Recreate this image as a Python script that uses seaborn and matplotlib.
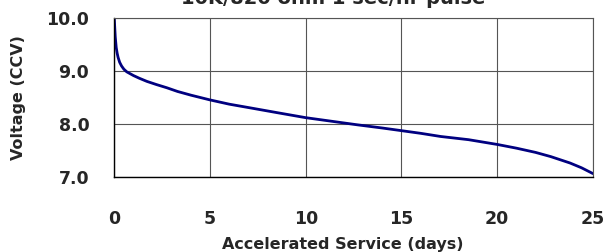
import matplotlib
matplotlib.use("Agg")
import matplotlib.pyplot as plt
import seaborn as sns
import pandas as pd

# readings taken off the reference curve
days = [0, 0.02, 0.05, 0.1, 0.15, 0.2, 0.28, 0.38, 0.5, 0.65, 0.8, 1.0,
        1.3, 1.7, 2.2, 2.74, 3.3, 4, 5, 6, 7.1, 8.5, 10, 11.5, 12.7, 14,
        15, 16, 17.05, 18.5, 20, 21, 22, 22.8, 23.8, 24.4, 25]
volts = [10.0, 9.85, 9.65, 9.45, 9.34, 9.26, 9.17, 9.1, 9.04, 8.99, 8.96,
         8.92, 8.87, 8.81, 8.75, 8.69, 8.62, 8.55, 8.46, 8.38, 8.31, 8.22,
         8.125, 8.05, 7.99, 7.93, 7.88, 7.83, 7.77, 7.71, 7.62, 7.55, 7.47,
         7.39, 7.27, 7.18, 7.07]
x_ticks = [0, 5, 10, 15, 20, 25]
y_ticks = [7.0, 8.0, 9.0, 10.0]
title = "10K/820 ohm 1 sec/hr pulse"

df = pd.DataFrame({"days": days, "volts": volts})

sns.set_style("white")
plt.rcParams["font.family"] = ["DejaVu Sans"]
plt.rcParams["font.weight"] = "bold"

fig = plt.figure(figsize=(6.06, 2.52), dpi=100)
ax = fig.add_axes([0.1886, 0.2964, 0.7899, 0.631])

sns.lineplot(data=df, x="days", y="volts", color="#000080", linewidth=2,
             ax=ax, sort=False)

ax.set_xlim(0, 25)
ax.set_ylim(7, 10)
ax.set_xticks(x_ticks)
ax.set_yticks(y_ticks)
ax.set_yticklabels([f"{v:.1f}" for v in y_ticks])
ax.tick_params(axis="x", length=0, pad=23.5, labelsize=12.5)
ax.tick_params(axis="y", length=0, pad=18, labelsize=12.5)
for lab in ax.get_xticklabels() + ax.get_yticklabels():
    lab.set_fontweight("bold")

ax.grid(True, color="#555555", linewidth=0.8)
for side in ["top", "right"]:
    ax.spines[side].set_color("#555555")
    ax.spines[side].set_linewidth(0.8)
for side in ["left", "bottom"]:
    ax.spines[side].set_color("black")
    ax.spines[side].set_linewidth(1.0)

ax.set_xlabel("Accelerated Service (days)", fontsize=11.5, fontweight="bold")
ax.xaxis.set_label_coords(0.477, -0.374)
ax.set_ylabel("Voltage (CCV)", fontsize=11.5, fontweight="bold", va="center")
ax.yaxis.set_label_coords(-0.201, 0.5)

# title sits partly above the top edge, as in the source image
fig.text(0.55, 0.984, title, ha="center", va="baseline", fontsize=14,
         fontweight="bold")

fig.savefig("out.png", dpi=100)
